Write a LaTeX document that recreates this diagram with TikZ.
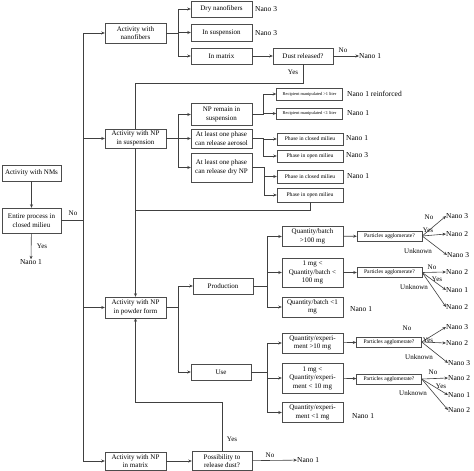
\documentclass[tikz,border=0pt]{standalone}
\usepackage{fontspec}
\setmainfont{Liberation Serif}
\usetikzlibrary{arrows.meta}

\tikzset{
	box/.style={draw=black!70, fill=white, align=center, inner sep=0.5pt, minimum width=61pt, font=\fontsize{7}{8.5}\selectfont},
	sbox/.style={box, minimum width=66pt, font=\fontsize{5.6}{6.5}\selectfont},
	tbox/.style={box, minimum width=66pt, font=\fontsize{4.4}{5}\selectfont},
	outc/.style={anchor=west, inner sep=0pt, font=\fontsize{7.5}{8}\selectfont},
	lbl/.style={inner sep=0pt, font=\fontsize{7}{8}\selectfont},
	link/.style={draw=black!75, line width=0.6pt},
	arr/.style={link, -{Stealth[length=3.5pt,width=3pt]}},
}

\begin{document}
\begin{tikzpicture}[x=1pt,y=-1pt]
		\useasboundingbox (0,0) rectangle (474,471);
		% start
		\node[box, minimum width=59pt, minimum height=16pt] (nms) at (31.5,173) {Activity with NMs};
		\node[box, minimum width=59pt, minimum height=25pt] (entire) at (31.5,220.5) {Entire process in\\closed milieu};
		\node[outc, anchor=center] (entireout) at (31,262) {Nano 1};
		\draw[arr] (nms) -- (entire);
		\draw[arr] (entire) -- (entireout);
		\node[lbl] at (42,246) {Yes};
		\node[lbl] at (73,213) {No};
		% activities
		\node[box, minimum height=20pt] (nanof) at (135.5,33) {Activity with\\nanofibers};
		\node[box, minimum height=19pt] (susp) at (135.5,138.5) {Activity with NP\\in suspension};
		\node[box, minimum height=21pt] (powder) at (135.5,307.5) {Activity with NP\\in powder form};
		\node[box, minimum height=18pt] (matrix) at (135.5,461) {Activity with NP\\in matrix};
		\coordinate (spine) at (83,220.5);
		\draw[link] (entire.east) -- (spine);
		\foreach \n in {nanof,susp,powder,matrix} % one arrow per activity
		\draw[arr] (spine) |- (\n.west);
		% nanofibers
		\node[box, minimum height=16pt] (dry) at (221.5,9) {Dry nanofibers};
		\node[box, minimum height=17pt] (insusp) at (221.5,32.5) {In suspension};
		\node[box, minimum height=16pt] (inmat) at (221.5,56) {In matrix};
		\node[box, minimum width=60pt, minimum height=16pt] (dust) at (303,56) {Dust released?};
		\node[outc] (dryout) at (255,9) {Nano 3};
		\node[outc] (insuspout) at (255,33) {Nano 3};
		\node[outc] (dustout) at (359,56) {Nano 1};
		\foreach \n in {dry,insusp,inmat}
		\draw[arr] (nanof.east) -- ++(12,0) |- (\n.west);
		\draw[arr] (inmat) -- (dust);
		\draw[arr] (dust) -- (dustout);
		\node[lbl] at (343,50) {No};
		\coordinate (dustyes) at (135.5,83);
		\draw[link] (dust.south) |- (dustyes) -- (susp.north);
		\node[lbl] at (293,72) {Yes};
		% suspension
		\node[box, minimum height=22pt] (remain) at (221.5,114.5) {NP remain in\\suspension};
		\node[box, minimum height=19pt] (aerosol) at (221.5,138.5) {At least one phase\\can release aerosol};
		\node[box, minimum height=29pt] (drynp) at (221.5,167.5) {At least one phase\\can release dry NP};
		\foreach \n in {remain,aerosol,drynp}
		\draw[arr] (susp.east) -- ++(12,0) |- (\n.west);
		\node[tbox, minimum height=12pt] (rec1) at (309.5,94) {Recipient manipulated >1 liter};
		\node[tbox, minimum height=11pt] (rec2) at (309.5,113.5) {Recipient manipulated <1 liter};
		\node[sbox, minimum height=12pt] (closed1) at (310,139) {Phase in closed milieu};
		\node[sbox, minimum height=12pt] (open1) at (310,156) {Phase in open milieu};
		\node[sbox, minimum height=13pt] (closed2) at (310,176.5) {Phase in closed milieu};
		\node[sbox, minimum height=14pt] (open2) at (310,195) {Phase in open milieu};
		\foreach \n in {rec1,rec2}
		\draw[arr] (remain.east) -- ++(11,0) |- (\n.west);
		\foreach \n in {closed1,open1}
		\draw[arr] (aerosol.east) -- ++(11,0) |- (\n.west);
		\foreach \n in {closed2,open2}
		\draw[arr] (drynp.east) -- ++(12,0) |- (\n.west);
		\node[outc] at (347,94) {Nano 1 reinforced};
		\node[outc] at (347,113) {Nano 1};
		\node[outc] at (346,138) {Nano 1};
		\node[outc] at (346,155) {Nano 3};
		\node[outc] at (347,176) {Nano 1};
		\coordinate (dryjoin) at (135.5,210);
		\draw[link] (open2.south) |- (dryjoin);
		\draw[arr] (susp.south) -- (powder.north);
		% powder form
		\node[box, minimum width=60pt, minimum height=16pt] (prod) at (223,286) {Production};
		\node[box, minimum width=60pt, minimum height=16pt] (use) at (221,372) {Use};
		\foreach \n in {prod,use}
		\draw[arr] (powder.east) -- ++(12,0) |- (\n.west);
		\node[box, minimum height=20pt] (qb1) at (312.5,236.5) {Quantity/batch\\>100 mg};
		\node[box, minimum height=29pt] (qb2) at (312.5,272.5) {1 mg <\\Quantity/batch <\\100 mg};
		\node[box, minimum height=20pt] (qb3) at (312.5,307) {Quantity/batch <1\\mg};
		\node[box, minimum height=20pt] (qe1) at (312.5,343) {Quantity/experi-\\ment >10 mg};
		\node[box, minimum height=30pt] (qe2) at (312.5,378) {1 mg <\\Quantity/experi-\\ment < 10 mg};
		\node[box, minimum height=20pt] (qe3) at (312.5,412.5) {Quantity/experi-\\ment <1 mg};
		\foreach \n in {qb1,qb2,qb3}
		\draw[arr] (prod.east) -- ++(14,0) |- (\n.west);
		\foreach \n in {qe1,qe2,qe3}
		\draw[arr] (use.east) -- ++(16,0) |- (\n.west);
		\node[outc] at (350,309) {Nano 1};
		\node[outc] at (352,416) {Nano 1};
		% agglomeration
		\node[sbox, minimum width=65pt, minimum height=10pt] (ag1) at (389.5,236) {Particles agglomerate?};
		\node[sbox, minimum width=65pt, minimum height=10pt] (ag2) at (389.5,272.5) {Particles agglomerate?};
		\node[sbox, minimum width=65pt, minimum height=10pt] (ag3) at (389,342) {Particles agglomerate?};
		\node[sbox, minimum width=65pt, minimum height=10pt] (ag4) at (389,379) {Particles agglomerate?};
		\draw[arr] (qb1) -- (ag1);
		\draw[arr] (qb2) -- (ag2);
		\draw[arr] (qe1) -- (ag3);
		\draw[arr] (qe2) -- (ag4);
		\node[outc] (ag1no) at (446,216) {Nano 3};
		\node[outc] (ag1yes) at (446,234) {Nano 2};
		\node[outc] (ag1unk) at (447,255) {Nano 3};
		\node[outc] (ag2no) at (446,272) {Nano 2};
		\node[outc] (ag2yes) at (446,290) {Nano 1};
		\node[outc] (ag2unk) at (446,307) {Nano 2};
		\node[outc] (ag3no) at (446,327) {Nano 3};
		\node[outc] (ag3yes) at (446,343) {Nano 2};
		\node[outc] (ag3unk) at (448,363) {Nano 3};
		\node[outc] (ag4no) at (448,378) {Nano 2};
		\node[outc] (ag4yes) at (448,395) {Nano 1};
		\node[outc] (ag4unk) at (448,410) {Nano 2};
		\foreach \a in {ag1,ag2,ag3,ag4} % three answers per question
		\foreach \b in {no,yes,unk}
		\draw[arr] (\a.east) -- (\a\b.west);
		\node[lbl] at (429,217) {No};
		\node[lbl] at (428,230) {Yes};
		\node[lbl] at (418,251) {Unknown};
		\node[lbl] at (432,267) {No};
		\node[lbl] at (437,279) {Yes};
		\node[lbl] at (414,287) {Unknown};
		\node[lbl] at (407,328) {No};
		\node[lbl] at (428,340) {Yes};
		\node[lbl] at (419,357) {Unknown};
		\node[lbl] at (433,372) {No};
		\node[lbl] at (441,386) {Yes};
		\node[lbl] at (413,393) {Unknown};
		% matrix
		\node[box, minimum width=60pt, minimum height=19pt] (poss) at (222,461) {Possibility to\\release dust?};
		\node[outc] (possout) at (297,460) {Nano 1};
		\draw[arr] (matrix) -- (poss);
		\draw[arr] (poss) -- (possout);
		\node[lbl] at (270,455) {No};
		\coordinate (possyes) at (135.5,402);
		\draw[arr] (poss.north) |- (possyes) -- (powder.south);
		\node[lbl] at (232,439) {Yes};
	\end{tikzpicture}
\end{document}
